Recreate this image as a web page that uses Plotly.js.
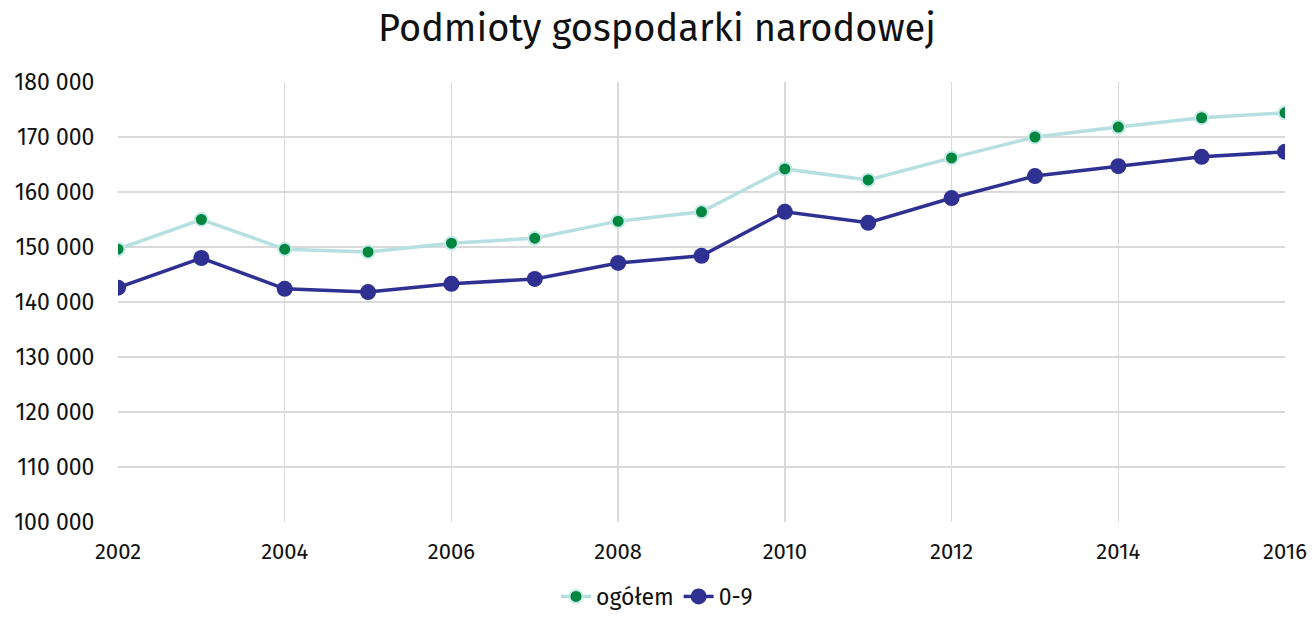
<!DOCTYPE html>
<html><head><meta charset="utf-8">
<script src="https://cdn.plot.ly/plotly-3.0.1.min.js"></script>
<style>html,body{margin:0;padding:0;background:#fff}#chart{width:1314px;height:618px}</style>
</head><body><div id="chart"></div>
<script>
const years = [2002,2003,2004,2005,2006,2007,2008,2009,2010,2011,2012,2013,2014,2015,2016];
const ogolem = [149600,155000,149600,149100,150700,151600,154700,156400,164200,162200,166200,170000,171800,173500,174400];
const small09 = [142600,148000,142400,141800,143300,144200,147100,148400,156400,154400,158900,162900,164700,166400,167300];
const seriesNames = ['ogółem','0-9'];
const xTicks = [2002,2004,2006,2008,2010,2012,2014,2016];

const traces = [
  {x: years, y: ogolem, name: seriesNames[0], type:'scatter', mode:'lines+markers',
   line:{color:'#b6dfe1', width:3.5},
   marker:{color:'#00873f', size:13, line:{color:'#c6e8e8', width:2}}},
  {x: years, y: small09, name: seriesNames[1], type:'scatter', mode:'lines+markers',
   line:{color:'#2e3192', width:3.5},
   marker:{color:'#2e3192', size:16, line:{width:0}}}
];
const layout = {
  width:1314, height:618,
  margin:{l:118, r:29, t:82, b:96, autoexpand:false},
  paper_bgcolor:'#fff', plot_bgcolor:'#fff',
  font:{family:'"Fira Sans","Noto Sans",sans-serif', color:'#111', size:23},
  separators:', ',
  title:{text:'Podmioty gospodarki narodowej', x:0.5, xanchor:'center', y:0.955, yanchor:'middle',
    font:{size:38, color:'#111'}},
  xaxis:{range:[2002,2016], tickvals:xTicks, ticktext:xTicks.map(String),
    showgrid:true, gridcolor:'#d9d9d9', gridwidth:1.5, zeroline:false, showline:false,
    ticks:'outside', ticklen:10, tickcolor:'rgba(0,0,0,0)', tickfont:{size:22}, automargin:false},
  yaxis:{range:[100000,180000], dtick:10000, tickformat:',d', showgrid:true, gridcolor:'#d9d9d9', gridwidth:1.5,
    zeroline:false, showline:false, ticks:'outside', ticklen:18, tickcolor:'rgba(0,0,0,0)', tickfont:{size:23}, automargin:false},
  legend:{orientation:'h', x:0.5, xanchor:'center', xref:'container', yref:'container', y:-0.012, yanchor:'bottom', font:{size:23}},
  showlegend:true
};
Plotly.newPlot('chart', traces, layout, {displayModeBar:false, staticPlot:true});
</script></body></html>
